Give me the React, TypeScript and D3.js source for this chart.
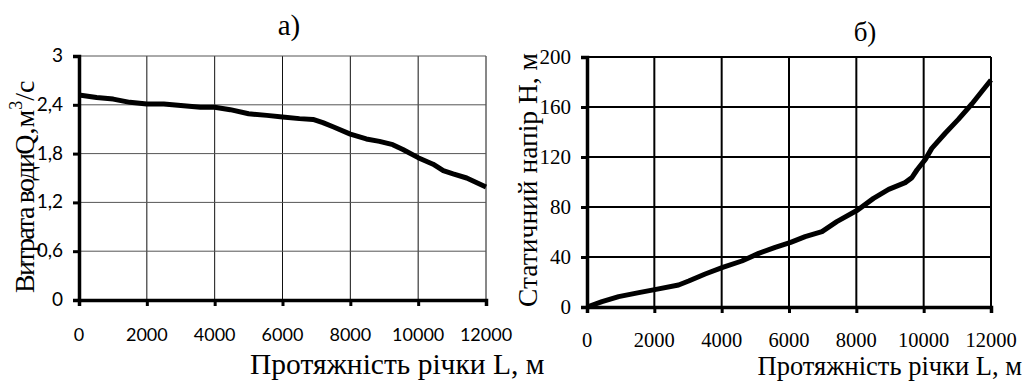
import React, { useEffect, useRef } from "react";
import * as d3 from "d3";

// chart а): water discharge along the river
const lengthA = [0, 520, 1010, 1500, 2000, 2500, 3000, 3580, 4000, 4460, 5000, 5540, 6000, 6500, 6900, 7190, 7490, 8000, 8470, 8860, 9250, 9550, 10000, 10440, 10740, 11030, 11430, 12000];
const discharge = [2.52, 2.49, 2.47, 2.43, 2.41, 2.41, 2.39, 2.37, 2.37, 2.34, 2.29, 2.27, 2.25, 2.23, 2.22, 2.18, 2.13, 2.04, 1.98, 1.95, 1.91, 1.85, 1.75, 1.67, 1.59, 1.55, 1.5, 1.39];

// chart б): static head along the river
const lengthB = [0, 446, 940, 1540, 2050, 2720, 3020, 3510, 4030, 4600, 5100, 5590, 6050, 6480, 6980, 7420, 8040, 8510, 8960, 9450, 9650, 9800, 10050, 10240, 10640, 11030, 11430, 11720, 12000];
const head = [0, 4.3, 8.3, 11.5, 14.1, 17.6, 20.8, 26.4, 31.7, 36.8, 42.9, 47.7, 51.7, 56.3, 60.3, 68.3, 77.6, 86.9, 94.1, 99.5, 103.5, 109.6, 118.1, 126.9, 139, 150.1, 162.4, 172.2, 181.6];

const xTicks = [0, 2000, 4000, 6000, 8000, 10000, 12000];
const qTicks = [0, 0.6, 1.2, 1.8, 2.4, 3];
const hTicks = [0, 40, 80, 120, 160, 200];

const serif = "'Liberation Serif', 'Times New Roman', serif";
const sans = "Lato, 'Liberation Sans', sans-serif";

export default function App() {
  const ref = useRef<SVGSVGElement>(null);

  useEffect(() => {
    const svg = d3.select(ref.current);
    svg.selectAll("*").remove();

    // ---------- panel а) ----------
    const xa = d3.scaleLinear().domain([0, 12000]).range([79, 486]);
    const ya = d3.scaleLinear().domain([0, 3]).range([300, 56]);
    const ga = svg.append("g");

    ga.selectAll(".vg")
      .data(xTicks.slice(1))
      .join("line")
      .attr("x1", (d) => xa(d))
      .attr("x2", (d) => xa(d))
      .attr("y1", ya(0))
      .attr("y2", ya(3))
      .attr("stroke", "#111")
      .attr("stroke-width", 1);
    ga.selectAll(".hg")
      .data(qTicks.slice(1))
      .join("line")
      .attr("x1", xa(0))
      .attr("x2", xa(12000))
      .attr("y1", (d) => ya(d))
      .attr("y2", (d) => ya(d))
      .attr("stroke", "#555")
      .attr("stroke-width", 1);

    ga.append("g")
      .attr("transform", `translate(0,${ya(0)})`)
      .call(d3.axisBottom(xa).tickValues(xTicks).tickSize(6).tickFormat(() => ""))
      .call((g) => g.select(".domain").attr("stroke-width", 3.5))
      .call((g) => g.selectAll(".tick line").attr("stroke-width", 3));
    ga.append("g")
      .attr("transform", `translate(${xa(0)},0)`)
      .call(d3.axisLeft(ya).tickValues(qTicks).tickSize(6).tickFormat(() => ""))
      .call((g) => g.select(".domain").attr("stroke-width", 3.5))
      .call((g) => g.selectAll(".tick line").attr("stroke-width", 3));

    ga.selectAll(".xl")
      .data(xTicks)
      .join("text")
      .attr("x", (d) => xa(d))
      .attr("y", 341)
      .attr("text-anchor", "middle")
      .style("font-family", sans)
      .style("font-size", "18px")
      .text((d) => String(d));
    ga.selectAll(".yl")
      .data(qTicks)
      .join("text")
      .attr("x", 63)
      .attr("y", (d) => ya(d) + 6)
      .attr("text-anchor", "end")
      .style("font-family", sans)
      .style("font-size", "19px")
      .text((d) => String(d).replace(".", ","));

    ga.append("path")
      .datum(lengthA.map((l, i) => [l, discharge[i]] as [number, number]))
      .attr("fill", "none")
      .attr("stroke", "#000")
      .attr("stroke-width", 5)
      .attr("stroke-linejoin", "round")
      .attr("d", d3.line().x((d) => xa(d[0])).y((d) => ya(d[1])));

    ga.append("text")
      .attr("x", 289)
      .attr("y", 35)
      .attr("text-anchor", "middle")
      .style("font-family", serif)
      .style("font-size", "29px")
      .text("а)");

    // y title, condensed the way the source squeezes it against the tick labels
    const ta = ga
      .append("text")
      .attr("transform", "translate(34,293) rotate(-90)")
      .attr("text-anchor", "start")
      .style("font-family", serif)
      .style("font-size", "28px");
    ta.append("tspan").attr("textLength", 140).attr("lengthAdjust", "spacing").text("Витрата води");
    ta.append("tspan").text("Q,м");
    ta.append("tspan").attr("dy", -12).style("font-size", "18px").text("3");
    ta.append("tspan").attr("dy", 12).text("/с");

    ga.append("text")
      .attr("x", 250)
      .attr("y", 374)
      .style("font-family", serif)
      .style("font-size", "29.5px")
      .text("Протяжність річки L, м");

    // ---------- panel б) ----------
    const xb = d3.scaleLinear().domain([0, 12000]).range([587, 991]);
    const yb = d3.scaleLinear().domain([0, 200]).range([307, 57]);
    const gb = svg.append("g");

    gb.selectAll(".vg")
      .data(xTicks.slice(1))
      .join("line")
      .attr("x1", (d) => xb(d))
      .attr("x2", (d) => xb(d))
      .attr("y1", yb(0))
      .attr("y2", yb(200))
      .attr("stroke", "#000")
      .attr("stroke-width", 2);
    gb.selectAll(".hg")
      .data(hTicks.slice(1))
      .join("line")
      .attr("x1", xb(0))
      .attr("x2", xb(12000))
      .attr("y1", (d) => yb(d))
      .attr("y2", (d) => yb(d))
      .attr("stroke", "#000")
      .attr("stroke-width", 2);

    gb.append("g")
      .attr("transform", `translate(0,${yb(0)})`)
      .call(d3.axisBottom(xb).tickValues(xTicks).tickSize(6).tickFormat(() => ""))
      .call((g) => g.select(".domain").attr("stroke-width", 3.5))
      .call((g) => g.selectAll(".tick line").attr("stroke-width", 3));
    gb.append("g")
      .attr("transform", `translate(${xb(0)},0)`)
      .call(d3.axisLeft(yb).tickValues(hTicks).tickSize(6).tickFormat(() => ""))
      .call((g) => g.select(".domain").attr("stroke-width", 3.5))
      .call((g) => g.selectAll(".tick line").attr("stroke-width", 3));

    gb.selectAll(".xl")
      .data(xTicks)
      .join("text")
      .attr("x", (d) => xb(d))
      .attr("y", 347)
      .attr("text-anchor", "middle")
      .style("font-family", serif)
      .style("font-size", "20.5px")
      .text((d) => String(d));
    gb.selectAll(".yl")
      .data(hTicks)
      .join("text")
      .attr("x", 571)
      .attr("y", (d) => yb(d) + 7)
      .attr("text-anchor", "end")
      .style("font-family", serif)
      .style("font-size", "21px")
      .text((d) => String(d));

    gb.append("path")
      .datum(lengthB.map((l, i) => [l, head[i]] as [number, number]))
      .attr("fill", "none")
      .attr("stroke", "#000")
      .attr("stroke-width", 5)
      .attr("stroke-linejoin", "round")
      .attr("d", d3.line().x((d) => xb(d[0])).y((d) => yb(d[1])));

    gb.append("text")
      .attr("x", 865)
      .attr("y", 41)
      .attr("text-anchor", "middle")
      .style("font-family", serif)
      .style("font-size", "27px")
      .text("б)");

    gb.append("text")
      .attr("transform", "translate(537,180) rotate(-90)")
      .attr("text-anchor", "middle")
      .style("font-family", serif)
      .style("font-size", "27.5px")
      .text("Статичний напір Н, м");

    gb.append("text")
      .attr("x", 1022)
      .attr("y", 375)
      .attr("text-anchor", "end")
      .style("font-family", serif)
      .style("font-size", "26.5px")
      .text("Протяжність річки L, м");
  }, []);

  return (
    <svg
      ref={ref}
      width={1023}
      height={381}
      style={{ position: "fixed", left: 0, top: 0, background: "#fff" }}
    />
  );
}
